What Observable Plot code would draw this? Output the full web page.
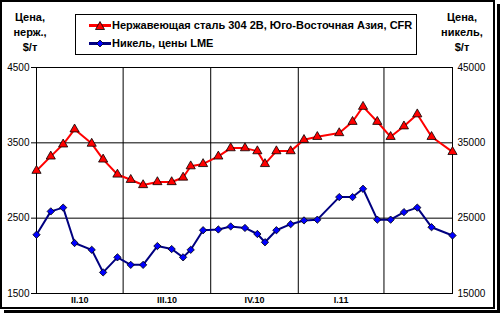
<!DOCTYPE html>
<html><head><meta charset="utf-8">
<script src="https://cdn.jsdelivr.net/npm/d3@7"></script>
<script src="https://cdn.jsdelivr.net/npm/@observablehq/plot@0.6"></script>
<style>
html,body{margin:0;padding:0;background:#fff;}
#wrap{position:relative;width:500px;height:313px;overflow:hidden;font-family:"Liberation Sans",Arial,sans-serif;}
#chart{position:absolute;left:0;top:0;}
.b{position:absolute;background:#000;}
.ttl{position:absolute;font-weight:bold;font-size:11px;line-height:15px;text-align:center;color:#000;}
#legend{position:absolute;left:75px;top:14px;width:340px;height:39px;border:1px solid #000;background:#fff;}
.li{position:absolute;left:13px;height:14px;font-weight:bold;font-size:11px;line-height:14px;white-space:nowrap;color:#000;}
.li svg{vertical-align:middle;margin-right:1px;position:relative;top:-1px;}
</style></head>
<body>
<div id="wrap">
  <div id="chart"></div>
  <div class="b" style="left:0;top:0;width:495px;height:2px"></div>
  <div class="b" style="left:0;top:0;width:2px;height:309px"></div>
  <div class="b" style="left:493px;top:0;width:2px;height:309px"></div>
  <div class="b" style="left:0;top:307px;width:495px;height:2px"></div>
  <div class="b" style="left:497px;top:4px;width:3px;height:309px"></div>
  <div class="b" style="left:4px;top:310px;width:496px;height:3px"></div>
  <div class="ttl" id="tl" style="left:4px;top:10px;width:52px"></div>
  <div class="ttl" id="tr" style="left:432px;top:10px;width:60px"></div>
  <div id="legend"></div>
</div>
<script>
const dates = ["2010-04-01","2010-04-16","2010-04-29","2010-05-11","2010-05-29","2010-06-10","2010-06-25","2010-07-09","2010-07-22","2010-08-06","2010-08-21","2010-09-02","2010-09-10","2010-09-23","2010-10-09","2010-10-22","2010-11-06","2010-11-19","2010-11-27","2010-12-09","2010-12-24","2011-01-07","2011-01-21","2011-02-13","2011-02-27","2011-03-10","2011-03-25","2011-04-08","2011-04-22","2011-05-06","2011-05-21","2011-06-12"];
const steelPrices = [3130,3320,3480,3680,3490,3280,3080,3010,2940,2980,2980,3040,3190,3220,3320,3430,3430,3390,3220,3390,3390,3540,3580,3630,3780,3980,3780,3580,3720,3880,3580,3380];
const nickelPrices = [22800,25900,26400,21700,20800,17800,19800,18800,18800,21300,20900,19800,20800,23400,23500,23900,23700,22900,21800,23400,24200,24700,24800,27800,27800,28900,24800,24800,25800,26400,23800,22700];
const quarterStarts = ["2010-04-01","2010-07-01","2010-10-01","2011-01-01","2011-04-01"];
const quarterLabels = ["II.10","III.10","IV.10","I.11"];
const leftTicks = [1500,2500,3500,4500];
const rightTicks = [15000,25000,35000,45000];
const steelName = "Нержавеющая сталь 304 2В, Юго-Восточная Азия, CFR";
const nickelName = "Никель, цены LME";
const leftTitle = ["Цена,","нерж.,","$/т"];
const rightTitle = ["Цена,","никель,","$/т"];

const parse = d3.utcParse("%Y-%m-%d");
const steel = dates.map((d,i)=>({date:parse(d), value:steelPrices[i]}));
const nickel = dates.map((d,i)=>({date:parse(d), value:nickelPrices[i]}));
const qs = quarterStarts.map(parse);
const quarters = quarterLabels.map((l,i)=>({label:l, mid:new Date((+qs[i] + +qs[i+1])/2)}));

const chart = Plot.plot({
  width:500, height:313,
  marginLeft:36, marginRight:48, marginTop:67, marginBottom:20,
  style:{fontFamily:"'Liberation Sans',Arial,sans-serif", fontSize:"10px", color:"#000", background:"transparent"},
  x:{type:"utc", domain:[steel[0].date, steel[steel.length-1].date], axis:null},
  y:{domain:[1500,4500]},
  marks:[
    Plot.ruleY([2500,3500], {stroke:"#000", strokeWidth:1}),
    Plot.ruleX(qs.slice(1), {stroke:"#000", strokeWidth:1}),
    Plot.frame({stroke:"#000", strokeWidth:1}),
    Plot.axisY(leftTicks, {anchor:"left", tickSize:5, tickPadding:2, label:null, fontSize:10, tickFormat:d=>String(d)}),
    Plot.axisY(rightTicks.map(v=>v/10), {anchor:"right", tickSize:0, tickPadding:5, label:null, fontSize:10, tickFormat:d=>String(d*10)}),
    Plot.text(quarters, {x:"mid", text:"label", frameAnchor:"bottom", dy:9, fontWeight:"bold", fontSize:9}),
    Plot.line(nickel, {x:"date", y:d=>d.value/10, stroke:"#000080", strokeWidth:2}),
    Plot.dot(nickel, {x:"date", y:d=>d.value/10, symbol:"diamond2", r:3.3, fill:"#0000ff", stroke:"#000", strokeWidth:0.8}),
    Plot.line(steel, {x:"date", y:"value", stroke:"#ff0000", strokeWidth:2}),
    Plot.dot(steel, {x:"date", y:"value", symbol:"triangle", r:3.4, fill:"#ff0000", stroke:"#000", strokeWidth:0.8})
  ]
});
document.getElementById("chart").appendChild(chart);

document.getElementById("tl").innerHTML = leftTitle.join("<br>");
document.getElementById("tr").innerHTML = rightTitle.join("<br>");

function swatch(line, fill, sym){
  const shape = sym==="tri"
    ? '<path d="M11,2.5 L15.5,10.5 L6.5,10.5 Z" fill="'+fill+'" stroke="#000" stroke-width="0.8"/>'
    : '<path d="M11,3 L14.5,6.5 L11,10 L7.5,6.5 Z" fill="'+fill+'" stroke="#000" stroke-width="0.8"/>';
  return '<svg width="22" height="13"><line x1="0" x2="22" y1="6.5" y2="6.5" stroke="'+line+'" stroke-width="3"/>'+shape+'</svg>';
}
document.getElementById("legend").innerHTML =
  '<div class="li" style="top:3px">'+swatch("#ff0000","#ff0000","tri")+steelName+'</div>'+
  '<div class="li" style="top:21px">'+swatch("#000080","#0000ff","dia")+nickelName+'</div>';
</script>
</body></html>
